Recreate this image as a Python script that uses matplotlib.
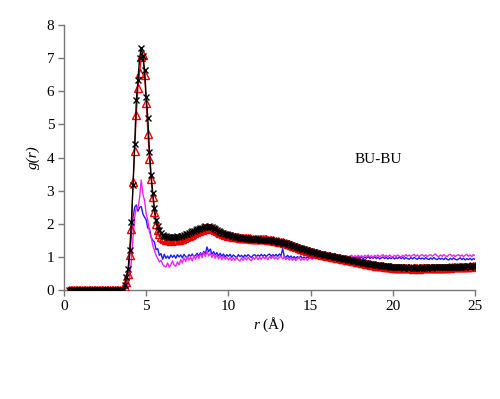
import numpy as np
import matplotlib
matplotlib.use("Agg")
from matplotlib import pyplot as plt

# r grid, 0.1 A step from 0.3 to 25.0
r = np.round(np.arange(3, 251) * 0.1, 1)

zeros_before = [0.0] * 34  # r = 0.3 .. 3.6

black_vals = [
    0.15, 0.4, 0.65,
    1.2, 2.06, 3.17, 4.41, 5.74, 6.34, 7.0, 7.32, 7.07, 6.65,
    5.84, 5.19, 4.17, 3.47, 2.93, 2.47, 2.11, 1.93, 1.8, 1.72,
    1.67, 1.64, 1.62, 1.6, 1.61, 1.6, 1.59, 1.61, 1.6, 1.62,
    1.61, 1.63, 1.64, 1.65, 1.68, 1.7, 1.72, 1.74, 1.77, 1.79,
    1.82, 1.84, 1.85, 1.88, 1.87, 1.9, 1.92, 1.91, 1.93, 1.91,
    1.89, 1.87, 1.84, 1.81, 1.78, 1.76, 1.73, 1.71, 1.69, 1.68,
    1.66, 1.65, 1.63, 1.62, 1.61, 1.6, 1.59, 1.58, 1.57, 1.57,
    1.56, 1.56, 1.55, 1.55, 1.54, 1.54, 1.53, 1.53, 1.53, 1.52,
    1.52, 1.52, 1.51, 1.51, 1.51, 1.5, 1.5, 1.49, 1.48, 1.47,
    1.46, 1.45, 1.44, 1.43, 1.42, 1.41, 1.39, 1.38, 1.36, 1.34,
    1.32, 1.31, 1.29, 1.27, 1.26, 1.24, 1.23, 1.21, 1.2, 1.18,
    1.17, 1.15, 1.14, 1.13, 1.11, 1.1, 1.09, 1.08, 1.07, 1.06,
    1.05, 1.04, 1.03, 1.02, 1.01, 1.0, 0.99, 0.98, 0.97, 0.96,
    0.95, 0.94, 0.93, 0.92, 0.91, 0.9, 0.89, 0.88, 0.87, 0.86,
    0.85, 0.84, 0.83, 0.82, 0.81, 0.8, 0.79, 0.78, 0.78, 0.77,
    0.76, 0.75, 0.75, 0.74, 0.73, 0.73, 0.72, 0.72, 0.71, 0.71,
    0.7, 0.7, 0.7, 0.69, 0.69, 0.69, 0.69, 0.68, 0.69, 0.68,
    0.68, 0.69, 0.68, 0.68, 0.68, 0.69, 0.68, 0.68, 0.69, 0.68,
    0.69, 0.68, 0.69, 0.69, 0.68, 0.69, 0.69, 0.7, 0.69, 0.69,
    0.7, 0.69, 0.7, 0.7, 0.7, 0.71, 0.7, 0.7, 0.71, 0.71,
    0.71, 0.7, 0.71, 0.72, 0.71, 0.72, 0.72, 0.71, 0.72, 0.72,
    0.72,
]

red_vals = [
    0.1, 0.25, 0.5,
    1.05, 1.83, 3.25, 4.2, 5.29, 6.1, 6.55, 7.05, 7.1, 6.5,
    5.65, 4.7, 3.95, 3.35, 2.8, 2.35, 2.0, 1.8, 1.68, 1.6,
    1.56, 1.53, 1.51, 1.5, 1.5, 1.49, 1.5, 1.5, 1.51, 1.52,
    1.52, 1.54, 1.55, 1.57, 1.59, 1.62, 1.64, 1.67, 1.7, 1.72,
    1.75, 1.77, 1.79, 1.81, 1.82, 1.84, 1.86, 1.86, 1.87, 1.86,
    1.85, 1.83, 1.8, 1.78, 1.75, 1.73, 1.71, 1.69, 1.67, 1.66,
    1.64, 1.63, 1.62, 1.61, 1.6, 1.59, 1.59, 1.58, 1.58, 1.57,
    1.57, 1.56, 1.56, 1.56, 1.55, 1.55, 1.55, 1.54, 1.54, 1.54,
    1.54, 1.53, 1.53, 1.53, 1.52, 1.52, 1.51, 1.5, 1.49, 1.48,
    1.47, 1.46, 1.45, 1.44, 1.42, 1.41, 1.39, 1.38, 1.36, 1.34,
    1.32, 1.3, 1.29, 1.27, 1.25, 1.24, 1.22, 1.21, 1.19, 1.18,
    1.16, 1.15, 1.13, 1.12, 1.11, 1.1, 1.08, 1.07, 1.06, 1.05,
    1.04, 1.03, 1.02, 1.01, 1.0, 0.99, 0.98, 0.97, 0.96, 0.95,
    0.94, 0.93, 0.92, 0.91, 0.9, 0.89, 0.88, 0.87, 0.86, 0.85,
    0.84, 0.83, 0.82, 0.81, 0.8, 0.79, 0.78, 0.77, 0.76, 0.75,
    0.74, 0.74, 0.73, 0.72, 0.72, 0.71, 0.7, 0.7, 0.69, 0.69,
    0.68, 0.68, 0.67, 0.67, 0.67, 0.66, 0.66, 0.66, 0.66, 0.66,
    0.66, 0.66, 0.65, 0.66, 0.66, 0.66, 0.65, 0.66, 0.66, 0.66,
    0.66, 0.67, 0.66, 0.66, 0.67, 0.67, 0.66, 0.67, 0.67, 0.68,
    0.67, 0.68, 0.68, 0.68, 0.69, 0.68, 0.69, 0.69, 0.7, 0.69,
    0.7, 0.7, 0.7, 0.71, 0.7, 0.71, 0.71, 0.72, 0.71, 0.72,
    0.72,
]

blue_vals = [
    0.05, 0.2, 0.55,
    1.1, 1.7, 2.2, 2.5, 2.57, 2.38, 2.5, 2.52, 2.3, 2.2,
    2.12, 1.87, 1.85, 1.6, 1.5, 1.45, 1.22, 1.25, 1.05, 1.1,
    0.93, 1.08, 0.96, 1.03, 0.95, 1.06, 0.99, 1.05, 0.96, 1.07,
    1.0, 1.06, 0.97, 1.08, 1.01, 0.98, 1.07, 1.02, 1.09, 1.01,
    1.05, 1.11, 1.03, 1.13, 1.05, 1.17, 1.1, 1.3, 1.16, 1.24,
    1.08, 1.16, 1.06, 1.13, 1.03, 1.11, 1.02, 1.09, 1.0, 1.07,
    1.02, 1.08, 0.99, 1.06, 1.02, 0.97, 1.07, 1.01, 1.05, 0.99,
    1.06, 1.01, 1.07, 1.02, 0.98, 1.05, 1.07, 1.01, 1.06, 1.02,
    1.08, 1.02, 1.07, 1.01, 1.06, 1.09, 1.02, 1.07, 1.03, 1.08,
    1.02, 1.09, 1.04, 1.25, 1.01, 0.99, 1.05, 0.98, 1.03, 0.97,
    1.01, 0.96, 1.01, 0.97, 1.03, 0.95, 1.0, 0.96, 1.01, 0.95,
    0.99, 0.95, 0.98, 1.01, 0.96, 1.0, 0.95, 0.99, 1.01, 0.96,
    0.99, 0.96, 1.01, 0.97, 0.95, 1.0, 0.96, 1.01, 0.97, 0.95,
    0.99, 0.96, 0.94, 0.99, 1.01, 0.96, 1.0, 0.95, 0.98, 1.01,
    0.96, 1.0, 0.95, 0.99, 0.96, 1.01, 0.95, 0.99, 0.96, 1.0,
    0.95, 0.99, 0.94, 0.97, 1.0, 0.95, 0.99, 0.94, 0.98, 0.95,
    0.99, 0.94, 0.98, 0.95, 1.0, 0.95, 0.99, 0.94, 0.98, 0.95,
    0.93, 0.98, 0.94, 0.99, 0.95, 0.93, 0.98, 0.94, 0.97, 0.93,
    0.98, 0.94, 0.92, 0.97, 0.93, 0.98, 0.94, 0.92, 0.97, 0.93,
    0.96, 0.92, 0.97, 0.93, 0.91, 0.96, 0.92, 0.97, 0.93, 0.91,
    0.94, 0.97, 0.92, 0.96, 0.91, 0.95, 0.92, 0.96, 0.91, 0.95,
    0.93,
]

magenta_vals = [
    0.0, 0.05, 0.15,
    0.4, 0.9, 1.6, 2.2, 2.5, 2.45, 2.8, 3.32, 2.9, 2.7,
    2.3, 2.1, 1.75, 1.6, 1.35, 1.2, 1.05, 0.95, 0.85, 0.9,
    0.78, 0.72, 0.7, 0.82, 0.69, 0.76, 0.88, 0.75, 0.72, 0.85,
    0.76, 0.92, 0.82, 0.97, 0.86, 1.02, 0.9, 1.0, 0.88, 1.04,
    0.93, 1.06, 0.95, 1.1, 0.98, 1.14, 1.01, 1.17, 1.03, 1.12,
    0.98, 1.1, 0.96, 1.07, 0.94, 1.04, 0.92, 1.02, 0.93, 1.0,
    0.91, 0.98, 0.89, 0.97, 0.9, 0.99, 0.91, 0.88, 0.97, 0.9,
    0.98, 0.91, 0.99, 0.92, 0.89, 0.98, 0.93, 1.01, 0.92, 0.99,
    0.93, 1.02, 0.94, 1.0, 0.92, 1.01, 0.95, 1.03, 0.94, 1.0,
    0.93, 0.99, 1.02, 0.94, 1.0, 0.92, 0.98, 0.91, 0.97, 0.9,
    0.96, 0.89, 0.95, 0.98, 0.9, 0.96, 0.91, 0.97, 0.9, 0.95,
    0.97, 0.92, 0.98, 0.94, 0.99, 0.95, 1.0, 0.96, 1.01, 0.97,
    1.01, 0.96, 1.02, 0.98, 1.03, 0.97, 1.02, 0.98, 1.03, 0.99,
    1.03, 0.98, 1.04, 0.99, 1.03, 1.05, 0.99, 1.04, 1.0, 1.05,
    1.0, 1.04, 0.99, 1.05, 1.01, 1.06, 1.0, 1.04, 0.99, 1.05,
    1.01, 1.06, 1.0, 1.04, 1.07, 1.01, 1.05, 1.0, 1.06, 1.02,
    1.0, 1.05, 1.01, 1.06, 1.02, 1.0, 1.05, 1.01, 1.07, 1.02,
    1.06, 1.01, 1.05, 1.08, 1.02, 1.06, 1.01, 1.05, 1.07, 1.02,
    1.06, 1.01, 1.05, 1.07, 1.02, 1.06, 1.09, 1.03, 1.01, 1.06,
    1.02, 1.07, 1.03, 1.01, 1.06, 1.08, 1.02, 1.06, 1.01, 1.05,
    1.07, 1.02, 1.06, 1.01, 1.05, 1.08, 1.02, 1.06, 1.01, 1.07,
    1.04,
]

g_black = zeros_before + black_vals
g_red = zeros_before + red_vals
g_blue = zeros_before + blue_vals
g_magenta = zeros_before + magenta_vals

plt.rcParams['font.family'] = ['Liberation Serif', 'DejaVu Serif']
plt.rcParams['mathtext.fontset'] = 'custom'
plt.rcParams['mathtext.rm'] = 'Liberation Serif'
plt.rcParams['mathtext.it'] = 'Liberation Serif:italic'

fig = plt.figure(figsize=(5.0, 3.99), dpi=100)
ax = fig.add_axes([0.128, 0.273, 0.822, 0.664])

ax.plot(r, g_blue, color='#1a1aff', lw=1.0, zorder=2)
ax.plot(r, g_magenta, color='#ee22ee', lw=1.0, zorder=2)
ax.plot(r, g_red, color='#e00000', lw=0.8, marker='^', ms=5.5,
        mfc='none', mec='#ee0000', mew=1.0, zorder=3)
ax.plot(r, g_black, color='black', lw=1.0, marker='x', ms=5.0,
        mew=1.0, zorder=4)

ax.set_xlim(0, 25)
ax.set_ylim(0, 8)
ax.set_xticks([0, 5, 10, 15, 20, 25])
ax.set_yticks(range(0, 9))

for side in ['top', 'right']:
    ax.spines[side].set_visible(False)
for side in ['left', 'bottom']:
    ax.spines[side].set_color('#777777')
    ax.spines[side].set_linewidth(1.0)
ax.tick_params(direction='out', length=4, width=1, color='#777777',
               labelsize=11, labelcolor='black', pad=3)

ax.set_xlabel(r'$\it{r}$ (Å)', fontsize=11, labelpad=2)
ax.set_ylabel('g(r)', fontsize=11, style='italic', labelpad=5)
ax.text(17.7, 3.93, 'BU-BU', fontsize=11, va='center', ha='left')

fig.savefig('out.png', dpi=100)
